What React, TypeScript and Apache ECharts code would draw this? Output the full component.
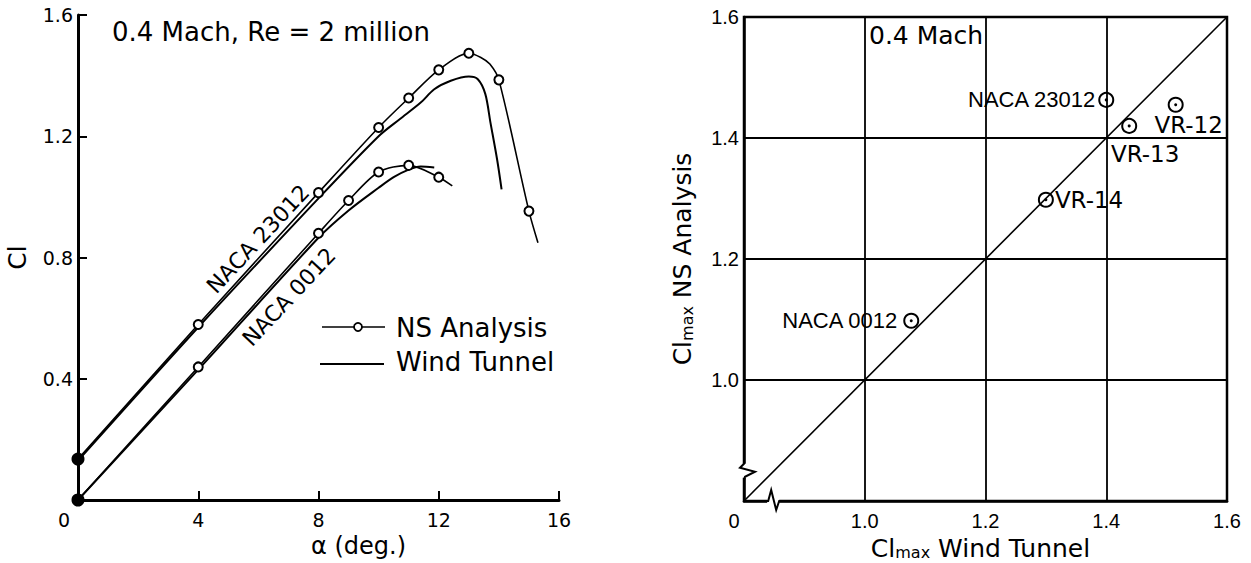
import React, { useEffect, useRef } from "react";
import * as echarts from "echarts";

// ---------- Left chart: Cl vs alpha (0.4 Mach, Re = 2 million) ----------
const ALPHA_TICKS = [0, 4, 8, 12, 16];
const CL_TICKS = [0, 0.4, 0.8, 1.2, 1.6];

// NS analysis, NACA 23012 (mark: 2 = filled start dot, 1 = open circle, 0 = curve only)
const NS_23012_ALPHA = [0, 4, 8, 10, 11, 12, 13, 13.4, 13.7, 14, 15, 15.3];
const NS_23012_CL = [0.135, 0.579, 1.014, 1.229, 1.326, 1.419, 1.474, 1.46, 1.438, 1.386, 0.953, 0.849];
const NS_23012_MARK = [2, 1, 1, 1, 1, 1, 1, 0, 0, 1, 1, 0];

// Wind tunnel, NACA 23012
const WT_23012_ALPHA = [0, 4, 8, 10, 10.7, 11.4, 11.85, 12.4, 13.0, 13.3, 13.55, 13.72, 13.94, 14.09];
const WT_23012_CL = [0.13, 0.57, 0.995, 1.2, 1.256, 1.311, 1.355, 1.383, 1.397, 1.388, 1.339, 1.245, 1.124, 1.025];

// NS analysis, NACA 0012
const NS_0012_ALPHA = [0, 4, 8, 9, 10, 11, 12, 12.45];
const NS_0012_CL = [0, 0.439, 0.88, 0.988, 1.082, 1.104, 1.065, 1.036];
const NS_0012_MARK = [2, 1, 1, 1, 1, 1, 1, 0];

// Wind tunnel, NACA 0012
const WT_0012_ALPHA = [0, 4, 8, 9, 10, 10.5, 11, 11.4, 11.85];
const WT_0012_CL = [0, 0.43, 0.865, 0.955, 1.03, 1.065, 1.09, 1.1, 1.097];

const LEGEND_NAMES = ["NS Analysis", "Wind Tunnel"];

// ---------- Right chart: Cl_max NS analysis vs wind tunnel ----------
const CMP_TICKS = [0.8, 1.0, 1.2, 1.4, 1.6];
const CMP_NAMES = ["NACA 0012", "VR-14", "VR-13", "NACA 23012", "VR-12"];
const CMP_WT = [1.077, 1.3, 1.438, 1.4, 1.515];
const CMP_NS = [1.098, 1.298, 1.42, 1.463, 1.455];
const IDEAL_LINE = [0.8, 1.6];
const BREAK_VALUE = 0.85;

const GEO = "DejaVu Sans";
const ARIAL = "Liberation Sans";

function markProps(m: number) {
  if (m === 0) return { symbol: "none" };
  if (m === 2) return { symbol: "circle", symbolSize: 11, itemStyle: { color: "#000", borderColor: "#000" } };
  return {};
}

const labelPlacement: Record<string, any> = {
  "NACA 0012": { position: "left", distance: 6 },
  "NACA 23012": { position: "left", distance: 3 },
  "VR-14": { position: "right", distance: 1 },
  "VR-13": { position: "inside", offset: [16, 28] },
  "VR-12": { position: "inside", offset: [13, 20] },
};

export default function App() {
  const ref = useRef<HTMLDivElement>(null);
  useEffect(() => {
    if (!ref.current) return;
    const chart = echarts.init(ref.current, null, { renderer: "svg" });

    const nsStyle = {
      type: "line",
      name: LEGEND_NAMES[0],
      xAxisIndex: 0,
      yAxisIndex: 0,
      smooth: 0.3,
      symbol: "circle",
      symbolSize: 9,
      showAllSymbol: true,
      itemStyle: { color: "#fff", borderColor: "#000", borderWidth: 2, opacity: 1 },
      lineStyle: { color: "#000", width: 1.6 },
      z: 3,
    };
    const wtStyle = {
      type: "line",
      name: LEGEND_NAMES[1],
      xAxisIndex: 0,
      yAxisIndex: 0,
      smooth: 0.3,
      symbol: "none",
      itemStyle: { color: "#000" },
      lineStyle: { color: "#000", width: 2 },
      z: 2,
    };

    const richTitle = {
      a: { fontFamily: GEO, fontSize: 25, lineHeight: 30, verticalAlign: "bottom", color: "#000" },
      b: { fontFamily: GEO, fontSize: 16, lineHeight: 16, verticalAlign: "bottom", color: "#000" },
    };

    const baseGraphic: any[] = [
      {
        type: "text", x: 112, y: 32,
        style: { text: "0.4 Mach, Re = 2 million", font: `26px "${GEO}"`, fill: "#000", verticalAlign: "middle" },
      },
      {
        type: "text", x: 258, y: 239, rotation: (47 * Math.PI) / 180,
        style: { text: "NACA 23012", font: `22px "${GEO}"`, fill: "#000", align: "center", verticalAlign: "middle" },
      },
      {
        type: "text", x: 289, y: 297, rotation: (47 * Math.PI) / 180,
        style: { text: "NACA 0012", font: `22px "${GEO}"`, fill: "#000", align: "center", verticalAlign: "middle" },
      },
      {
        type: "text", x: 869, y: 35,
        style: { text: "0.4 Mach", font: `25px "${GEO}"`, fill: "#000", verticalAlign: "middle" },
      },
      // legend (drawn by hand so the icons match)
      { type: "line", shape: { x1: 322, y1: 327, x2: 385, y2: 327 }, style: { stroke: "#000", lineWidth: 1.5 } },
      { type: "circle", shape: { cx: 358, cy: 327, r: 4 }, style: { fill: "#fff", stroke: "#000", lineWidth: 1.8 } },
      {
        type: "text", x: 396, y: 328,
        style: { text: LEGEND_NAMES[0], font: `26px "${GEO}"`, fill: "#000", verticalAlign: "middle" },
      },
      { type: "line", shape: { x1: 320, y1: 364, x2: 384, y2: 364 }, style: { stroke: "#000", lineWidth: 2 } },
      {
        type: "text", x: 396, y: 362,
        style: { text: LEGEND_NAMES[1], font: `26px "${GEO}"`, fill: "#000", verticalAlign: "middle" },
      },
    ];

    const option: any = {
      animation: false,
      backgroundColor: "#fff",
      textStyle: { fontFamily: GEO, color: "#000" },
      grid: [
        { left: 78, top: 15, width: 481, height: 485, containLabel: false, outerBoundsMode: "none" },
        {
          left: 744, top: 17, width: 483, height: 484, containLabel: false, outerBoundsMode: "none",
          show: true, borderColor: "#000", borderWidth: 2.5, backgroundColor: "transparent",
        },
      ],
      xAxis: [
        {
          gridIndex: 0, type: "value", min: ALPHA_TICKS[0], max: ALPHA_TICKS[ALPHA_TICKS.length - 1], interval: 4,
          axisLine: { show: true, lineStyle: { color: "#000", width: 3 } },
          axisTick: { show: true, inside: true, length: 9, lineStyle: { color: "#000", width: 2 } },
          splitLine: { show: false },
          axisLabel: {
            color: "#000", fontFamily: GEO, fontSize: 19, margin: 10,
            formatter: (v: number) => (v === 0 ? "{z|0}" : String(v)),
            rich: { z: { fontFamily: GEO, fontSize: 19, color: "#000", padding: [0, 28, 0, 0] } },
          },
          name: "\u03b1 (deg.)", nameLocation: "middle", nameGap: 27,
          nameTextStyle: { fontFamily: GEO, fontSize: 24, color: "#000", verticalAlign: "top", padding: [0, 0, 0, 80] },
        },
        {
          gridIndex: 1, type: "value", min: CMP_TICKS[0], max: CMP_TICKS[CMP_TICKS.length - 1], interval: 0.2,
          axisLine: { show: true, lineStyle: { color: "#000", width: 2.5 } },
          axisTick: { show: false },
          splitLine: { show: true, lineStyle: { color: "#000", width: 1.8 } },
          axisLabel: {
            color: "#000", fontFamily: ARIAL, fontSize: 20, margin: 10,
            formatter: (v: number) => (Math.abs(v - 0.8) < 1e-9 ? "{z|0}" : v.toFixed(1)),
            rich: { z: { fontFamily: ARIAL, fontSize: 20, color: "#000", padding: [0, 20, 0, 0] } },
          },
          name: "{a|Cl}{b|max}{a| Wind Tunnel}", nameLocation: "middle", nameGap: 27,
          nameTextStyle: { color: "#000", rich: richTitle, padding: [0, 10, 0, 0] },
        },
      ],
      yAxis: [
        {
          gridIndex: 0, type: "value", min: CL_TICKS[0], max: CL_TICKS[CL_TICKS.length - 1], interval: 0.4,
          axisLine: { show: true, lineStyle: { color: "#000", width: 3 } },
          axisTick: { show: true, inside: true, length: 9, lineStyle: { color: "#000", width: 2 } },
          splitLine: { show: false },
          axisLabel: {
            color: "#000", fontFamily: GEO, fontSize: 19, margin: 5,
            formatter: (v: number) => (v === 0 ? "" : v.toFixed(1)),
          },
          name: "Cl", nameLocation: "middle", nameGap: 48, nameRotate: 90,
          nameTextStyle: { fontFamily: GEO, fontSize: 25, color: "#000" },
        },
        {
          gridIndex: 1, type: "value", min: CMP_TICKS[0], max: CMP_TICKS[CMP_TICKS.length - 1], interval: 0.2,
          axisLine: { show: true, lineStyle: { color: "#000", width: 2.5 } },
          axisTick: { show: false },
          splitLine: { show: true, lineStyle: { color: "#000", width: 1.8 } },
          axisLabel: {
            color: "#000", fontFamily: ARIAL, fontSize: 20, margin: 5,
            formatter: (v: number) => (Math.abs(v - 0.8) < 1e-9 ? "" : v.toFixed(1)),
          },
          name: "{a|Cl}{b|max}{a| NS Analysis}", nameLocation: "middle", nameGap: 49, nameRotate: 90,
          nameTextStyle: { color: "#000", rich: richTitle },
        },
      ],
      series: [
        { ...wtStyle, data: WT_23012_ALPHA.map((a, i) => [a, WT_23012_CL[i]]) },
        { ...wtStyle, data: WT_0012_ALPHA.map((a, i) => [a, WT_0012_CL[i]]) },
        {
          ...nsStyle,
          data: NS_23012_ALPHA.map((a, i) => ({ value: [a, NS_23012_CL[i]], ...markProps(NS_23012_MARK[i]) })),
        },
        {
          ...nsStyle,
          data: NS_0012_ALPHA.map((a, i) => ({ value: [a, NS_0012_CL[i]], ...markProps(NS_0012_MARK[i]) })),
        },
        // Right chart
        {
          type: "line",
          name: "ideal",
          xAxisIndex: 1,
          yAxisIndex: 1,
          symbol: "none",
          lineStyle: { color: "#000", width: 1.6 },
          data: IDEAL_LINE.map((v) => [v, v]),
          z: 2,
        },
        {
          type: "scatter",
          name: "Cl max",
          xAxisIndex: 1,
          yAxisIndex: 1,
          symbol: "circle",
          symbolSize: 14,
          itemStyle: { color: "rgba(255,255,255,0)", borderColor: "#000", borderWidth: 2, opacity: 1 },
          data: CMP_NAMES.map((n, i) => ({
            name: n,
            value: [CMP_WT[i], CMP_NS[i]],
            label: {
              show: true,
              formatter: n,
              color: "#000",
              opacity: 1,
              fontFamily: n.startsWith("NACA") ? ARIAL : GEO,
              fontSize: n.startsWith("NACA") ? 22 : 23,
              ...labelPlacement[n],
            },
          })),
          z: 4,
        },
        {
          type: "scatter",
          name: "Cl max centre",
          xAxisIndex: 1,
          yAxisIndex: 1,
          symbol: "circle",
          symbolSize: 3,
          itemStyle: { color: "#000", opacity: 1 },
          data: CMP_NAMES.map((n, i) => [CMP_WT[i], CMP_NS[i]]),
          z: 5,
        },
      ],
      graphic: baseGraphic,
    };
    chart.setOption(option);

    // axis break marks near the origin of the right chart
    const yb = chart.convertToPixel({ gridIndex: 1 } as any, [CMP_TICKS[0], BREAK_VALUE]) as number[];
    const xb = chart.convertToPixel({ gridIndex: 1 } as any, [BREAK_VALUE, CMP_TICKS[0]]) as number[];
    if (yb && xb) {
      chart.setOption({
        graphic: [
          ...baseGraphic,
          { type: "rect", shape: { x: yb[0] - 3, y: yb[1] - 7, width: 6, height: 14 }, style: { fill: "#fff" }, z: 9 },
          {
            type: "polyline",
            shape: {
              points: [
                [yb[0], yb[1] - 9], [yb[0], yb[1] - 7], [yb[0] - 4, yb[1] - 3], [yb[0] + 11, yb[1] + 1],
                [yb[0] + 1, yb[1] + 6], [yb[0], yb[1] + 9],
              ],
            },
            style: { stroke: "#000", lineWidth: 2, fill: "none" },
            z: 10,
          },
          { type: "rect", shape: { x: xb[0] - 7, y: xb[1] - 3, width: 12, height: 6 }, style: { fill: "#fff" }, z: 9 },
          {
            type: "polyline",
            shape: {
              points: [
                [xb[0] - 9, xb[1]], [xb[0] - 6, xb[1]], [xb[0] - 3, xb[1] - 11], [xb[0] + 2, xb[1] + 9],
                [xb[0] + 5, xb[1]], [xb[0] + 8, xb[1]],
              ],
            },
            style: { stroke: "#000", lineWidth: 2, fill: "none" },
            z: 10,
          },
        ],
      });
    }

    return () => chart.dispose();
  }, []);

  return (
    <div
      ref={ref}
      style={{ position: "fixed", left: 0, top: 0, width: 1251, height: 563, background: "#fff" }}
    />
  );
}
